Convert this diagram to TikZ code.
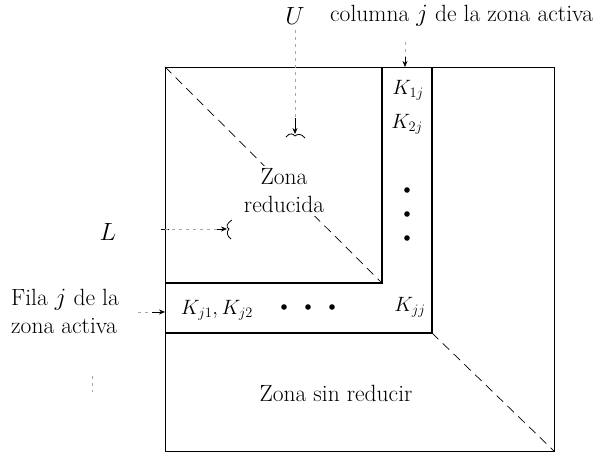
\documentclass[tikz,border=0pt]{standalone}
\usetikzlibrary{arrows.meta}
\begin{document}
\begin{tikzpicture}[x=1pt,y=-1pt,
  every node/.style={font=\fontsize{23.5}{28}\selectfont, inner sep=0pt},
  klabel/.style={font=\fontsize{20}{24}\selectfont},
  thin line/.style={line width=0.9pt},
  thick line/.style={line width=1.8pt},
  diag/.style={line width=0.7pt, dash pattern=on 9pt off 6pt},
  faint/.style={line width=0.5pt, gray!70, dash pattern=on 3pt off 4pt},
  tip/.style={-{Stealth[length=6pt,width=5pt]}}]
\useasboundingbox (0,0) rectangle (605,457);
% outer square
\coordinate (TL) at (165,67);
\coordinate (TR) at (554,67);
\coordinate (BR) at (554,451);
\coordinate (BL) at (165,451);
\draw[thin line] (TL) -- (TR) -- (BR) -- (BL) -- cycle;
% reduced zone / active row and column
\coordinate (CT) at (382,67);
\coordinate (RC) at (382,283);
\coordinate (RL) at (165,283);
\coordinate (CTR) at (432,67);
\coordinate (AC) at (432,333);
\coordinate (AL) at (165,333);
\draw[thick line] (CT) -- (RC) -- (RL);
\draw[thick line] (CTR) -- (AC) -- (AL);
% diagonals
\draw[diag] (TL) -- (RC);
\draw[diag] (AC) -- (BR);
% labels
\node (U) at (295,16) {$U$};
\node[anchor=west] (col) at (330,16) {columna $j$ de la zona activa};
\node (L) at (108,232) {$L$};
\node[align=left, anchor=west] (fila) at (11,311) {Fila $j$ de la\\zona activa};
\node[align=center, fill=white, inner sep=3pt] (red) at (284,191) {Zona\\reducida};
\node (sin) at (336,393) {Zona sin reducir};
\node[klabel] (k1) at (408,90) {$K_{1j}$};
\node[klabel] (k2) at (407,124) {$K_{2j}$};
\node[klabel] (kjj) at (410,307) {$K_{jj}$};
\node[klabel] (kj) at (217,310) {$K_{j1},K_{j2}$};
\foreach \i/\y in {1/190,2/214,3/238} \fill (407,\y) circle (2.8pt) coordinate (cd\i);
\foreach \i/\x in {1/284,2/308,3/332} \fill (\x,307) circle (2.8pt) coordinate (rd\i);
% arrows
\coordinate (colA) at (405,42);
\coordinate (colB) at (405,67);
\draw[faint] (colA) -- (405,58);
\draw[line width=0.6pt, tip] (405,57) -- (colB);
\coordinate (filaA) at (138,312);
\coordinate (filaB) at (165,312);
\draw[faint] (filaA) -- (152,312);
\draw[line width=0.6pt, tip] (152,312) -- (filaB);
% U arrow
\coordinate (uA) at (295,30);
\coordinate (uB) at (295,134);
\draw[faint] (uA) -- (295,118);
\draw[line width=0.6pt, tip] (295,118) -- (uB);
\draw[line width=0.8pt] (286,137) .. controls (290,132) and (293,134) .. (295,136) .. controls (297,134) and (301,133) .. (305,138);
% L arrow
\coordinate (lA) at (165,229);
\coordinate (lB) at (227,229);
\draw[line width=0.5pt] (161,229) -- (169,229);
\draw[faint] (lA) -- (217,229);
\draw[line width=0.6pt, tip] (217,229) -- (lB);
\draw[line width=0.8pt] (232,220) .. controls (226,224) and (226,227) .. (229,229) .. controls (226,232) and (227,236) .. (231,239);
% faint tick
\coordinate (tkA) at (92,376);
\coordinate (tkB) at (92,392);
\draw[faint] (tkA) -- (tkB);
\end{tikzpicture}
\end{document}
